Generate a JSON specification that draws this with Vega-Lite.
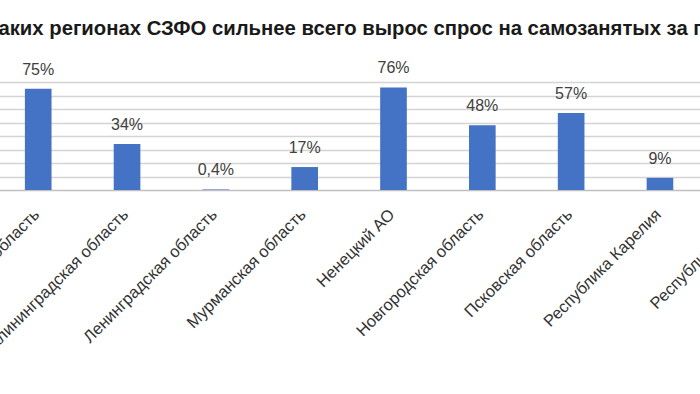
{
  "$schema": "https://vega.github.io/schema/vega-lite/v6.json",
  "width": 977,
  "height": 108,
  "autosize": {"type": "none"},
  "padding": {"left": -95, "top": 82, "right": -182, "bottom": 204},
  "background": "white",
  "config": {
    "font": "Liberation Sans",
    "view": {"stroke": null},
    "locale": {"number": {"decimal": ",", "thousands": " ", "grouping": [3], "currency": ["", " ₽"]}}
  },
  "title": {
    "text": "В каких регионах СЗФО сильнее всего вырос спрос на самозанятых за п",
    "anchor": "start",
    "frame": "group",
    "dx": 63,
    "dy": -17,
    "fontSize": 20.3,
    "fontWeight": "bold",
    "color": "#1a1a1a"
  },
  "data": {
    "values": [
      {"region": "Вологодская область", "share": 0.75},
      {"region": "Калининградская область", "share": 0.34},
      {"region": "Ленинградская область", "share": 0.004},
      {"region": "Мурманская область", "share": 0.17},
      {"region": "Ненецкий АО", "share": 0.76},
      {"region": "Новгородская область", "share": 0.48},
      {"region": "Псковская область", "share": 0.57},
      {"region": "Республика Карелия", "share": 0.09}
    ]
  },
  "encoding": {
    "x": {
      "field": "region",
      "type": "nominal",
      "sort": null,
      "scale": {
        "domain": ["Архангельская область", "Вологодская область", "Калининградская область", "Ленинградская область", "Мурманская область", "Ненецкий АО", "Новгородская область", "Псковская область", "Республика Карелия", "Республика Коми", "Санкт-Петербург"],
        "paddingInner": 0.7,
        "paddingOuter": 0.35
      },
      "axis": {
        "title": null,
        "labelAngle": -45,
        "labelFontSize": 16.5,
        "labelColor": "#333333",
        "labelPadding": 16,
        "labelOffset": -7,
        "labelLimit": 400,
        "ticks": false,
        "domainColor": "#bfbfbf",
        "domainWidth": 1.5
      }
    },
    "y": {
      "field": "share",
      "type": "quantitative",
      "scale": {"domain": [0, 0.8], "nice": false},
      "axis": {
        "title": null,
        "labels": false,
        "ticks": false,
        "domain": false,
        "grid": true,
        "gridColor": "#d4d4d4",
        "gridWidth": 1.5,
        "values": [0.1, 0.2, 0.3, 0.4, 0.5, 0.6, 0.7, 0.8]
      }
    }
  },
  "layer": [
    {"mark": {"type": "bar", "color": "#4472c4"}},
    {
      "mark": {"type": "text", "dy": -19, "baseline": "middle", "fontSize": 16, "color": "#404040"},
      "encoding": {"text": {"field": "share", "type": "quantitative", "format": ".1~%"}}
    }
  ]
}
